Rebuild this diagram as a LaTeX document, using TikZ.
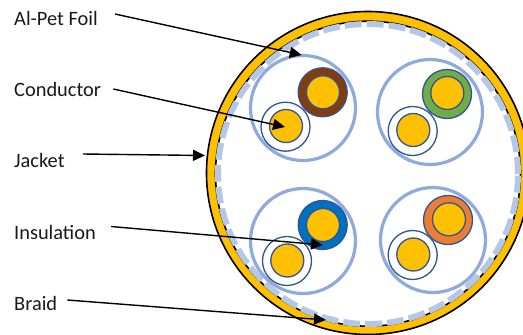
\documentclass[tikz,border=0pt]{standalone}
\usepackage{fontspec}
\setmainfont{Carlito}
\usetikzlibrary{arrows.meta}
\definecolor{gold}{HTML}{FFC000}
\definecolor{wireline}{HTML}{2F5597}
\definecolor{pairblue}{HTML}{8FAADC}
\definecolor{dashblue}{HTML}{B4C7E7}
\definecolor{cbrown}{HTML}{843C0C}
\definecolor{cgreen}{HTML}{70AD47}
\definecolor{cblue}{HTML}{0070C0}
\definecolor{corange}{HTML}{ED7D31}
\tikzset{
  lab/.style={anchor=base west,inner sep=0pt,font=\fontsize{20.4}{22}\selectfont,text=black!90},
  pairring/.style={circle,draw=pairblue,line width=3.2pt,minimum size=105pt,inner sep=0pt},
  insul/.style={circle,draw=wireline,line width=1.3pt,minimum size=49pt,inner sep=0pt,fill=#1},
  cond/.style={circle,draw=wireline,line width=1.3pt,minimum size=33pt,inner sep=0pt,fill=gold},
  arr/.style={draw=black,line width=1.4pt,-{Triangle[length=12pt,width=11pt]},shorten >=0pt},
}
\begin{document}
\begin{tikzpicture}[x=1pt,y=-1pt]
\useasboundingbox (0,0) rectangle (523,335);
\clip (0,0) rectangle (523,335);
\node[circle,draw=black,line width=1.6pt,fill=gold,minimum size=323pt,inner sep=0pt] (braid) at (368,173) {};
\node[circle,draw=black,line width=1.6pt,fill=white,minimum size=305pt,inner sep=0pt] (jacket) at (368,173.7) {};
\node[circle,draw=dashblue,line width=6pt,dash pattern=on 17pt off 5pt,minimum size=300pt,inner sep=0pt] (foil) at (368,174) {};
% pair rings
\node[pairring] (p1) at (303,108) {};
\node[pairring] (p2) at (430,112) {};
\node[pairring] (p3) at (303,241) {};
\node[pairring] (p4) at (433,240) {};
% top-left
\node[insul=cbrown] (i1) at (322.7,92.3) {};
\node[cond] (c1) at (323,92.3) {};
\node[insul=white] (w1) at (285.5,126.7) {};
\node[cond] (d1) at (286,126) {};
% top-right
\node[insul=cgreen] (i2) at (447,94) {};
\node[cond] (c2) at (447.3,93) {};
\node[insul=white] (w2) at (412.7,131) {};
\node[cond] (d2) at (413.3,130) {};
% bottom-left
\node[insul=cblue] (i3) at (322.7,225) {};
\node[cond] (c3) at (323,225) {};
\node[insul=white] (w3) at (287,261) {};
\node[cond] (d3) at (287.3,260.5) {};
% bottom-right
\node[insul=corange] (i4) at (448,220) {};
\node[cond] (c4) at (449,219.3) {};
\node[insul=white] (w4) at (412.7,255) {};
\node[cond] (d4) at (413.3,254.5) {};
% labels
\node[lab] (lfoil) at (14,25) {Al-Pet Foil};
\node[lab] (lcond) at (14,96.5) {Conductor};
\node[lab] (ljack) at (14,167) {Jacket};
\node[lab] (lins) at (14,239) {Insulation};
\node[lab] (lbraid) at (14,310.5) {Braid};
% arrow targets
\coordinate (tfoil) at (301.7,55);
\coordinate (tcond) at (285,127);
\coordinate (tjack) at (205,155.5);
\coordinate (tins) at (323,245);
\coordinate (tbraid) at (326,320);
\draw[arr] ([shift={(17,-11)}]lfoil.base east) -- (tfoil);
\draw[arr] ([shift={(12,-7.5)}]lcond.base east) -- (tcond);
\draw[arr] ([shift={(18,-13)}]ljack.base east) -- (tjack);
\draw[arr] ([shift={(15,-12.5)}]lins.base east) -- (tins);
\draw[arr] ([shift={(10,-10.5)}]lbraid.base east) -- (tbraid);
\end{tikzpicture}
\end{document}
